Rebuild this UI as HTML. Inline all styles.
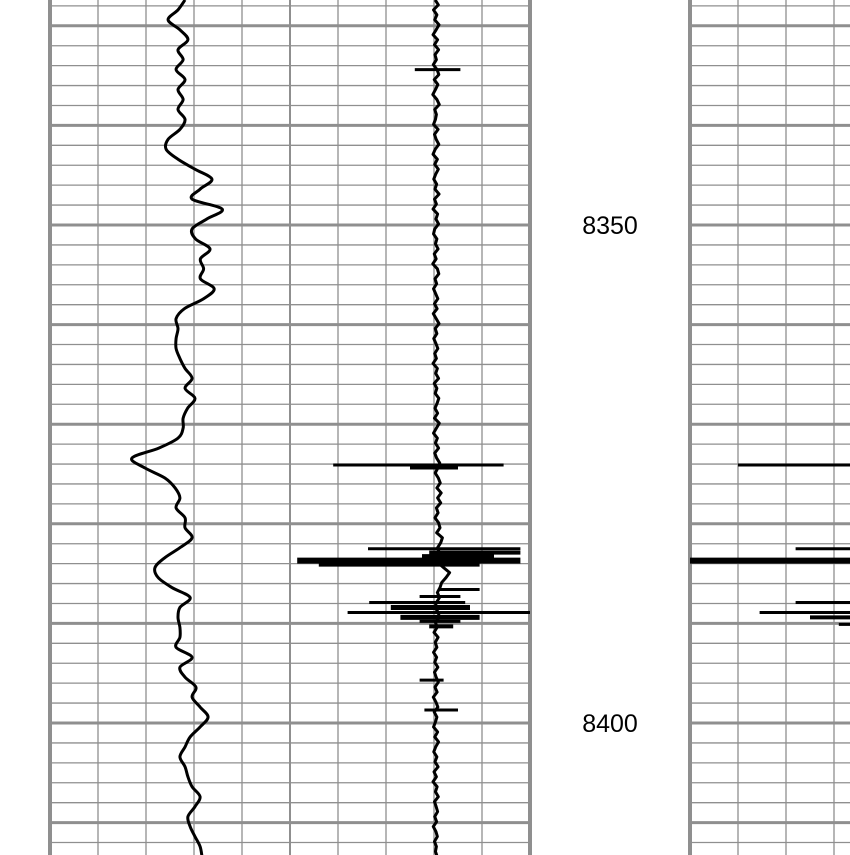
<!DOCTYPE html>
<html><head><meta charset="utf-8"><style>
html,body{margin:0;padding:0;background:#fff;width:850px;height:855px;overflow:hidden}
svg{display:block}
</style></head><body>
<svg id="log" width="850" height="855" viewBox="0 0 850 855" xmlns="http://www.w3.org/2000/svg">
<g id="grid"></g>
<g id="curves"></g>
<text x="610" y="234" font-family="Liberation Sans, sans-serif" font-size="25" text-anchor="middle" fill="#000">8350</text>
<text x="610" y="732" font-family="Liberation Sans, sans-serif" font-size="25" text-anchor="middle" fill="#000">8400</text>
</svg>
<script>
const depthStart = 8327.4;
const depthStep = 1;
const curve1 = [42.2,40,36.9,40.6,43.1,40,41.6,39.4,42.2,40,41.6,40,42.2,40.6,36.9,36.3,40,45.3,50.6,46.9,44.4,53.8,49,44.4,45.5,50,47,48,47,51.3,48,42,39.4,40,39.4,39.4,40.6,42.2,44.4,42.2,45.3,43,41.6,41.6,40,34,25.6,29.7,35.9,39.1,40.6,39.4,42.2,42.2,44.4,40.6,35.9,32.8,33.8,38.1,43.8,40.6,40,40.6,40.6,39.4,44.4,40.6,42.2,45.6,44.4,46.9,49.4,46.9,43.8,42.2,40.6,42.2,43.1,44.4,46.9,45.3,43.1,43.8,45.3,46.9,47.5];
const curve2Step = 0.5;
const curve2 = [60.5,61.8,59.8,61.2,60.3,62.1,60.9,59.6,61.5,60.2,61.9,60.4,61,59.7,61.3,62,60.1,61.6,60.6,59.5,61.2,62.2,60.3,61,60.6,59.8,61.7,60.2,60.9,62,60.5,59.6,61.4,60.3,61.8,60.7,59.9,61.1,60.4,62.1,60.2,61,59.6,61.5,60.8,61.9,60.3,59.8,61.2,60.6,61.7,60.1,60.9,59.5,61.4,62,60.4,61.1,59.8,60.7,61.6,60.2,61.3,59.7,60.9,62.1,60.5,61.2,59.9,60.8,61.6,60.3,61,59.6,61.4,60.7,61.9,60.1,61.2,60.5,62,61.3,60.4,61.5,60.2,62.2,61,59.8,61.4,60.6,61.9,60.3,61.1,62.4,61.6,60.5,61.8,62.6,61.2,63,61.5,62.8,61,61.7,60.4,61.9,62.5,61.1,63.5,62.8,61.5,62.2,60.8,61.6,64,66.5,65,63.2,62.5,61.4,62.3,61,60.4,61.8,62.2,60.6,61.3,60,61.7,60.5,61.2,59.8,61.1,60.3,61.6,60.2,60.9,61.8,60.4,61.3,59.7,60.8,61.6,60.1,61.2,60.6,59.8,61.5,60.3,61.9,60.7,59.9,61.2,60.4,61.7,60,61,59.6,61.3,60.6,61.8,60.2,60.9,61.5,60.3,61.1,59.7,60.8,61.4,60.2,61,60.6,61.3,60.4];
const spikeDepths = [8334.4,8374.1,8374.3,8382.5,8382.9,8383.3,8383.7,8384.1,8386.6,8387.3,8387.9,8388.4,8388.9,8389.4,8389.8,8390.3,8395.7,8398.7];
const spikeLeft =   [52,18,50,32.5,58,55,3,12,62.5,54,33,42,24,46,54,58,54,56];
const spikeRight =  [71,89,70,96,96,85,96,79,79,71,73,75,100,79,71,68,64,70];
const spikeWidth =  [3,3,5,3,4,5,6,4,3,3,3,5,3,5,3,4,3,3];
const t2Depths = [8374.1,8382.5,8383.7,8387.9,8388.9,8389.4,8390.1];
const t2Left =   [20,44,0,44,29,50,62];
const t2Right =  [67,67,67,67,67,67,67];
const t2Width =  [3,3,6,3,3,4,3];

const NS='http://www.w3.org/2000/svg';
const yOf = d => 225 + (d-8350)*9.96;
const x1 = v => 50 + v*3.2;
const x2 = v => 290 + v*2.4;
const xt2 = v => 690 + v*2.4;
const grid=document.getElementById('grid'), curves=document.getElementById('curves');
function mk(tag,attrs,parent){const e=document.createElementNS(NS,tag);for(const k in attrs)e.setAttribute(k,attrs[k]);parent.appendChild(e);return e;}
for(let d=8328; d<=8414; d+=2){
  const y=yOf(d); const major=(d%10===0);
  const l1=mk('line',{x1:50,x2:530,y1:y,y2:y,stroke:'#8f8f8f','stroke-width':major?3:1.3},grid);
  
  
  const l2=mk('line',{x1:690,x2:850,y1:y,y2:y,stroke:'#8f8f8f','stroke-width':major?3:1.3},grid);
  
  
}
for(let i=0;i<=10;i++){
  const x=50+i*48; const w=(i===0||i===10)?4:(i===5?2:1.3);
  const l=mk('line',{x1:x,x2:x,y1:0,y2:855,stroke:'#8f8f8f','stroke-width':w},grid);
  
  
}
for(let i=0;i<4;i++){
  const x=690+i*48;
  const l=mk('line',{x1:x,x2:x,y1:0,y2:855,stroke:'#8f8f8f','stroke-width':i===0?4:1.3},grid);
  
  
}
const p1=curve1.map((v,i)=>[x1(v),yOf(depthStart+i*depthStep)]);
let d1='M'+p1[0][0]+','+p1[0][1];
for(let i=0;i<p1.length-1;i++){
  const p0=p1[Math.max(0,i-1)],a=p1[i],b=p1[i+1],p3=p1[Math.min(p1.length-1,i+2)];
  const c1=[a[0]+(b[0]-p0[0])/6,a[1]+(b[1]-p0[1])/6], c2=[b[0]-(p3[0]-a[0])/6,b[1]-(p3[1]-a[1])/6];
  d1+=` C${c1[0]},${c1[1]} ${c2[0]},${c2[1]} ${b[0]},${b[1]}`;
}
const c1p=mk('path',{d:d1,fill:'none',stroke:'#000','stroke-width':3,'stroke-linejoin':'round'},curves);


const d2=curve2.map((v,i)=>(i?'L':'M')+x2(v)+','+yOf(depthStart+i*curve2Step)).join(' ');
const c2p=mk('path',{d:d2,fill:'none',stroke:'#000','stroke-width':3,'stroke-linejoin':'round'},curves);


spikeDepths.forEach((d,i)=>{
  const l=mk('line',{x1:x2(spikeLeft[i]),x2:x2(spikeRight[i]),y1:yOf(d),y2:yOf(d),stroke:'#000','stroke-width':spikeWidth[i]},curves);
  
  
});
t2Depths.forEach((d,i)=>{
  const l=mk('line',{x1:xt2(t2Left[i]),x2:xt2(t2Right[i]),y1:yOf(d),y2:yOf(d),stroke:'#000','stroke-width':t2Width[i]},curves);
  
  
});
</script>
</body></html>
